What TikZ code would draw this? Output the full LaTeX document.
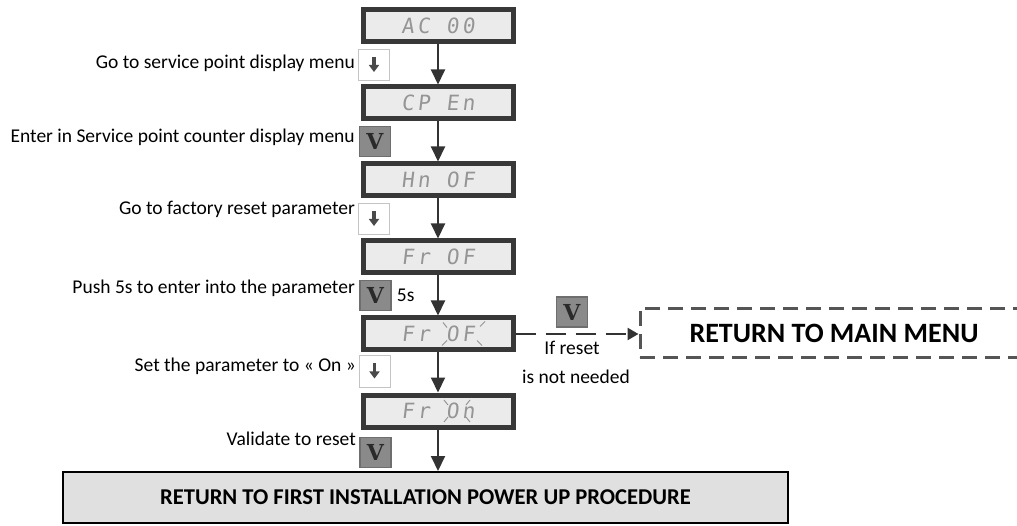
\documentclass[tikz,border=0pt]{standalone}
\usepackage{fontspec}
\setmainfont{Carlito}
\newfontfamily\segfont[FakeSlant=0.12,LetterSpace=16]{DejaVu Sans Mono}
\newfontfamily\keyfont{DejaVu Serif}
\usetikzlibrary{positioning, arrows.meta}

\definecolor{dispedge}{HTML}{383838}
\definecolor{dispfill}{HTML}{EBEBEB}
\definecolor{segtext}{HTML}{959595}
\definecolor{keyedge}{HTML}{C4C4C4}
\definecolor{keyarrow}{HTML}{4A4A4A}
\definecolor{vfill}{HTML}{8A8A8A}
\definecolor{vedge}{HTML}{6E6E6E}
\definecolor{vtext}{HTML}{2A2A2A}
\definecolor{flowgray}{HTML}{333333}
\definecolor{procfill}{HTML}{E0E0E0}
\definecolor{mmedge}{HTML}{555555}

\begin{document}
\begin{tikzpicture}[x=1pt, y=-1pt, node distance=40pt,
  display/.style={draw=dispedge, line width=5pt, fill=dispfill, minimum width=150pt,
    minimum height=32pt, inner sep=0pt, text=segtext,
    font=\segfont\fontsize{21}{21}\selectfont},
  downkey/.style={draw=keyedge, line width=1pt, fill=white, minimum size=31pt, inner sep=0pt,
    path picture={\draw[line width=3.2pt, draw=keyarrow, -{Triangle[length=7pt,width=10pt]}]
      ([yshift=8pt]path picture bounding box.center) -- ([yshift=-7pt]path picture bounding box.center);}},
  vkey/.style={draw=vedge, line width=1.5pt, fill=vfill, minimum width=31pt, minimum height=30pt,
    inner sep=0pt, text=vtext, font=\keyfont\bfseries\fontsize{22}{22}\selectfont},
  hint/.style={inner sep=0pt, font=\fontsize{19.5}{23}\selectfont},
  flow/.style={draw=flowgray, line width=2pt, -{Triangle[length=15pt,width=14pt]}},
  blink/.style={draw=segtext, line width=1pt},
]
\clip (0,0) rectangle (1017,526);

% display states
\node (d1) [display] at (438,26) {AC 00};
\node (d2) [display, below=of d1] {CP En};
\node (d3) [display, below=of d2] {Hn OF};
\node (d4) [display, below=of d3] {Fr OF};
\node (d5) [display, below=of d4] {Fr OF};
\node (d6) [display, below=of d5] {Fr On};

% blinking marks
\draw[blink] ([shift={(5,-11.5)}]d5.center) -- ([shift={(9,-6.5)}]d5.center);
\draw[blink] ([shift={(42,-7.5)}]d5.center) -- ([shift={(47,-12.5)}]d5.center);
\draw[blink] ([shift={(9,6.5)}]d5.center) -- ([shift={(4,11.5)}]d5.center);
\draw[blink] ([shift={(39,6.5)}]d5.center) -- ([shift={(44,11.5)}]d5.center);
\draw[blink] ([shift={(6,-11)}]d6.center) -- ([shift={(10,-6)}]d6.center);
\draw[blink] ([shift={(28,-6)}]d6.center) -- ([shift={(32,-11)}]d6.center);
\draw[blink] ([shift={(10,6)}]d6.center) -- ([shift={(6,11)}]d6.center);
\draw[blink] ([shift={(28,6)}]d6.center) -- ([shift={(32,11)}]d6.center);

% keys
\node (k1) [downkey] at (374,65) {};
\node (k2) [vkey] at (375,141.5) {V};
\node (k3) [downkey] at (374,219) {};
\node (k4) [vkey] at (375.5,295.5) {V};
\node (k5) [downkey] at (374.5,371.5) {};
\node (k6) [vkey] at (375.5,452.5) {V};
\node (k7) [vkey] at (572,312) {V};

% texts
\node (t1) [hint, anchor=east] at (355,63) {Go to service point display menu};
\node (t2) [hint, anchor=east] at (355,137) {Enter in Service point counter display menu};
\node (t3) [hint, anchor=east] at (355,209) {Go to factory reset parameter};
\node (t4) [hint, anchor=east] at (355,288) {Push 5s to enter into the parameter};
\node (t5) [hint, anchor=east] at (356,366) {Set the parameter to « On »};
\node (t6) [hint, anchor=east] at (356,439) {Validate to reset};
\node (t5s) [hint, right=5pt of k4] {5s};
\node (skip1) [hint] at (572,348) {If reset};
\node (skip2) [hint] at (576,377) {is not needed};

% end boxes
\node (mm) [draw=mmedge, line width=3pt, dash pattern=on 15pt off 8pt, minimum width=388pt,
  minimum height=49pt, font=\bfseries\fontsize{28}{28}\selectfont] at (834,333) {RETURN TO MAIN MENU};
\node (proc) [draw=black, line width=2pt, fill=procfill, minimum width=725pt, minimum height=51pt,
  font=\bfseries\fontsize{22.6}{22.6}\selectfont] at (425.5,497.5) {RETURN TO FIRST INSTALLATION POWER UP PROCEDURE};

% arrows
\draw[flow] (d1) -- (d2);
\draw[flow] (d2) -- (d3);
\draw[flow] (d3) -- (d4);
\draw[flow] (d4) -- (d5);
\draw[flow] (d5) -- (d6);
\draw[flow] (d6.south) -- (d6.south |- proc.north);
\draw[flow, line width=2.5pt, dash pattern=on 20pt off 10pt, -{Triangle[length=11pt,width=12pt]}]
  (d5.east) -- (d5.east -| mm.west);
\end{tikzpicture}
\end{document}
